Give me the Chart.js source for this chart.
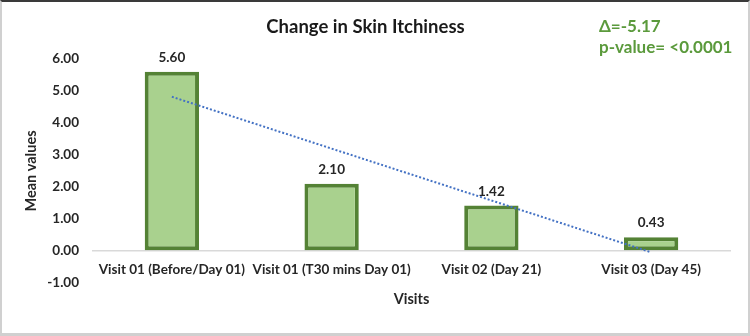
<!DOCTYPE html>
<html>
<head>
<meta charset="utf-8">
<script src="https://cdn.jsdelivr.net/npm/chart.js@4.4.1/dist/chart.umd.min.js"></script>
<style>
	body { margin: 0; background: #fff; }
	#wrap { position: relative; width: 750px; height: 336px; }
	#frame {
		position: absolute; left: 0; top: 0; width: 750px; height: 336px; box-sizing: border-box;
		border-top: 2px solid #3a3a3a; border-left: 2px solid #d0d0d0; border-right: 2px solid #d0d0d0; border-bottom: 3px solid #d0d0d0;
		pointer-events: none;
	}
</style>
</head>
<body>
<div id="wrap">
	<canvas id="chart" width="750" height="336"></canvas>
	<div id="frame"></div>
</div>
<script>
const visits = ['Visit 01 (Before/Day 01)', 'Visit 01 (T30 mins Day 01)', 'Visit 02 (Day 21)', 'Visit 03 (Day 45)']
const meanValues = [5.6, 2.1, 1.42, 0.43]
const trendValues = [4.82, 3.2, 1.58, -0.04]
const statLines = ['Δ=-5.17', 'p-value= <0.0001']

const FONT = 'Lato, "Open Sans", sans-serif'
Chart.defaults.font.family = FONT
Chart.defaults.color = '#262626'

// value labels above the bars (bar dataset is index 1)
const barLabels = {
	id: 'barLabels',
	afterDatasetsDraw(chart) {
		const ctx = chart.ctx
		const meta = chart.getDatasetMeta(1)
		ctx.save()
		ctx.font = 'bold 13.5px ' + FONT
		ctx.fillStyle = '#262626'
		ctx.textAlign = 'center'
		ctx.textBaseline = 'alphabetic'
		meta.data.forEach((bar, i) => {
			ctx.fillText(meanValues[i].toFixed(2), bar.x, bar.y - 10)
		})
		ctx.restore()
	},
}

const statsText = {
	id: 'statsText',
	afterDraw(chart) {
		const ctx = chart.ctx
		ctx.save()
		ctx.font = 'bold 17px ' + FONT
		ctx.fillStyle = '#5b9a3c'
		ctx.textAlign = 'left'
		ctx.textBaseline = 'alphabetic'
		ctx.fillText(statLines[0], 599, 32)
		ctx.fillText(statLines[1], 599, 53)
		ctx.restore()
	},
}

new Chart(document.getElementById('chart'), {
	type: 'bar',
	data: {
		labels: visits,
		datasets: [
			{
				type: 'line',
				label: 'Linear trend',
				data: trendValues,
				borderColor: '#4472C4',
				borderWidth: 2,
				borderDash: [2, 2],
				pointRadius: 0,
				fill: false,
				order: 0,
			},
			{
				label: 'Mean values',
				data: meanValues,
				backgroundColor: '#A9D18E',
				borderColor: '#548235',
				borderWidth: 4,
				borderSkipped: false,
				barPercentage: 0.34,
				categoryPercentage: 1,
				order: 1,
			},
		],
	},
	options: {
		responsive: false,
		animation: false,
		layout: { padding: { left: 0, right: 19, top: 0, bottom: 53 } },
		plugins: {
			legend: { display: false },
			tooltip: { enabled: false },
			title: {
				display: true,
				text: 'Change in Skin Itchiness',
				color: '#1a1a1a',
				font: { size: 18.5, weight: 'bold' },
				padding: { top: 16, bottom: 20.8 },
			},
		},
		scales: {
			x: {
				position: { y: 0 },
				offset: true,
				grid: { display: false, drawTicks: false },
				border: { display: false },
				ticks: { color: '#262626', font: { size: 13.5, weight: 'bold' }, padding: 11, maxRotation: 0, autoSkip: false },
				title: { display: true, text: 'Visits', color: '#262626', font: { size: 14.5, weight: 'bold' }, padding: { top: 1, bottom: 0 } },
			},
			y: {
				min: -1,
				max: 6,
				afterFit: scale => { scale.width = 92 },
				grid: {
					drawTicks: false,
					lineWidth: 1.5,
					color: c => (c.tick && c.tick.value === 0 ? '#d9d9d9' : 'transparent'),
				},
				border: { display: false },
				ticks: {
					stepSize: 1,
					padding: 13,
					color: '#262626',
					font: { size: 13.5, weight: 'bold' },
					callback: v => v.toFixed(2),
				},
				title: { display: true, text: 'Mean values', color: '#262626', font: { size: 14.5, weight: 'bold' }, padding: { top: 23, bottom: 0 } },
			},
		},
	},
	plugins: [barLabels, statsText],
})
</script>
</body>
</html>
